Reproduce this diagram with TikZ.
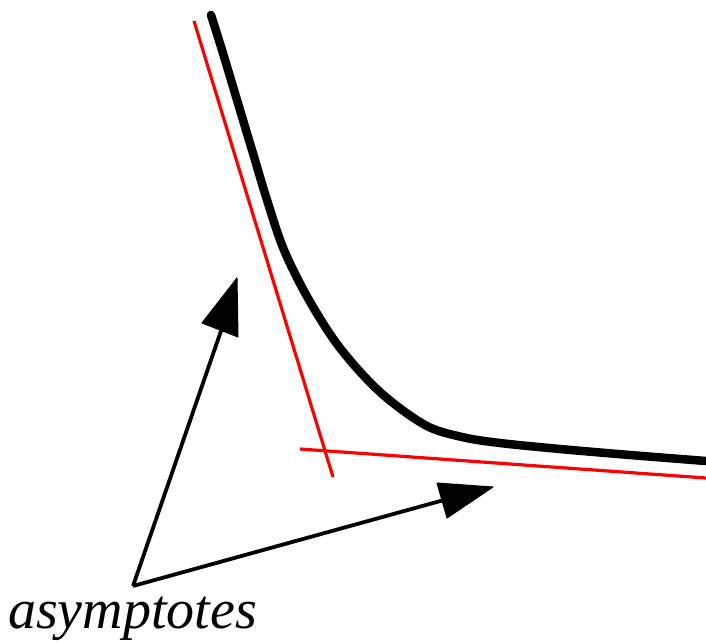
\documentclass[tikz,border=0pt]{standalone}
\usepackage{fontspec}
\setmainfont{Liberation Serif}
\begin{document}
\begin{tikzpicture}[x=1pt,y=-1pt,
  curve/.style={line width=8.5pt,black,line cap=round,line join=round},
  asym/.style={line width=3.2pt,red},
  shaft/.style={line width=3.8pt,black},
  head/.style={fill=black,draw=black,line width=1pt,line join=round}]
\useasboundingbox (0,0) rectangle (706,642);
% hyperbola-like curve
\draw[curve] plot[smooth,tension=0.55] coordinates {(211,15) (222,50) (237,100) (252,150) (267,200) (284,250) (309,300) (340,348) (380,392) (425,425) (462,437) (500,443) (560,449) (630,455) (706,461)};
% asymptotes
\coordinate (a1s) at (194,21);
\coordinate (a1e) at (333,477);
\coordinate (a2s) at (300,449);
\coordinate (a2e) at (706,478);
\draw[asym] (a1s) -- (a1e);
\draw[asym] (a2s) -- (a2e);
% label
\node[anchor=base west,inner sep=0pt,font=\fontsize{56}{60}\selectfont\itshape] (lbl) at (8,628) {asymptotes};
\coordinate (root) at (133,586);
% arrow 1
\coordinate (t1) at (237,278);
\coordinate (l1) at (202,323);
\coordinate (r1) at (238,337);
\coordinate (b1) at (222,328);
\draw[shaft] (root) -- (b1);
\fill[head] (t1) -- (l1) -- (r1) -- cycle;
% arrow 2
\coordinate (t2) at (493,487);
\coordinate (l2) at (437,483);
\coordinate (r2) at (447,518);
\coordinate (b2) at (444,500);
\draw[shaft] (root) -- (b2);
\fill[head] (t2) -- (l2) -- (r2) -- cycle;
\end{tikzpicture}
\end{document}
